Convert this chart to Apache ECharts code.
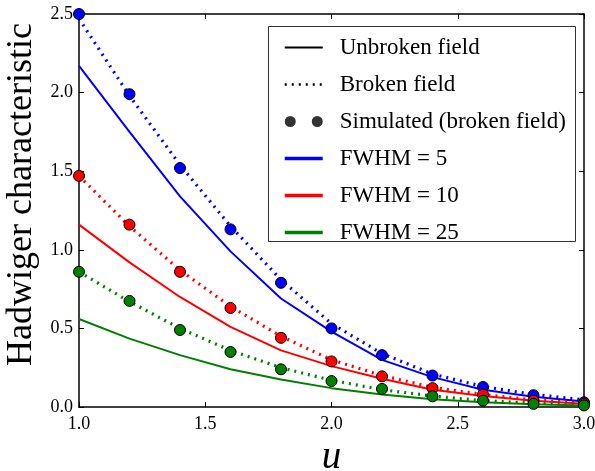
<!DOCTYPE html>
<html>
<head>
<meta charset="utf-8">
<script src="https://cdn.jsdelivr.net/npm/echarts@6/dist/echarts.min.js"></script>
<style>html,body{margin:0;padding:0;background:#fff;}#c{width:595px;height:471px;}</style>
</head>
<body>
<div id="c"></div>
<script>
var uValues = [1.0, 1.2, 1.4, 1.6, 1.8, 2.0, 2.2, 2.4, 2.6, 2.8, 3.0];
var xTicks = [1.0, 1.5, 2.0, 2.5, 3.0];
var yTicks = [0.0, 0.5, 1.0, 1.5, 2.0, 2.5];

var blueUnbroken  = [2.17, 1.75, 1.34, 0.99, 0.69, 0.48, 0.30, 0.19, 0.11, 0.065, 0.035];
var redUnbroken   = [1.16, 0.92, 0.70, 0.51, 0.36, 0.26, 0.18, 0.11, 0.07, 0.04, 0.02];
var greenUnbroken = [0.56, 0.435, 0.33, 0.24, 0.175, 0.12, 0.08, 0.05, 0.03, 0.017, 0.01];

var blueBroken  = [2.47, 1.98, 1.54, 1.15, 0.81, 0.53, 0.34, 0.21, 0.13, 0.08, 0.045];
var redBroken   = [1.47, 1.15, 0.87, 0.64, 0.45, 0.30, 0.20, 0.125, 0.08, 0.045, 0.025];
var greenBroken = [0.86, 0.67, 0.50, 0.36, 0.25, 0.17, 0.11, 0.07, 0.04, 0.025, 0.013];

var blueSim  = [2.5, 1.99, 1.52, 1.13, 0.79, 0.50, 0.33, 0.20, 0.127, 0.075, 0.03];
var redSim   = [1.47, 1.16, 0.86, 0.63, 0.44, 0.29, 0.195, 0.12, 0.079, 0.04, 0.02];
var greenSim = [0.86, 0.675, 0.49, 0.35, 0.24, 0.165, 0.115, 0.068, 0.04, 0.02, 0.01];

var legendNames = ['Unbroken field', 'Broken field', 'Simulated (broken field)', 'FWHM = 5', 'FWHM = 10', 'FWHM = 25'];
var xLabel = 'u';
var yLabel = 'Hadwiger characteristic';

var BLUE = '#0000ff', RED = '#ff0000', GREEN = '#008000';
var FONT = '"Liberation Serif", "DejaVu Serif", serif';
var DOT = [2, 5];

function pairs(ys) { return uValues.map(function (u, i) { return [u, ys[i]]; }); }

function solid(name, ys, color) {
  return { name: name, type: 'line', data: pairs(ys), symbol: 'none', silent: true, z: 2,
    lineStyle: { color: color, width: 2 }, itemStyle: { color: color } };
}
function dotted(name, ys, color) {
  return { name: name, type: 'line', data: pairs(ys), symbol: 'none', silent: true, z: 3,
    lineStyle: { color: color, width: 3.2, type: DOT, cap: 'butt' }, itemStyle: { color: color } };
}
function sim(name, ys, color) {
  return { name: name, type: 'scatter', data: pairs(ys), symbol: 'circle', symbolSize: 11, z: 5, silent: true,
    itemStyle: { color: color, borderColor: '#000', borderWidth: 1, opacity: 1 } };
}

var chart = echarts.init(document.getElementById('c'), null, { renderer: 'canvas' });

var axisCommon = {
  type: 'value',
  axisLine: { show: true, onZero: false, lineStyle: { color: '#000', width: 1.5 } },
  axisTick: { show: true, inside: true, length: 5, lineStyle: { color: '#000', width: 1 } },
  splitLine: { show: false }
};

var HIDE = { color: 'rgba(0,0,0,0)', borderWidth: 0 };

var series = [
  solid('u5', blueUnbroken, BLUE), solid('u10', redUnbroken, RED), solid('u25', greenUnbroken, GREEN),
  dotted('b5', blueBroken, BLUE), dotted('b10', redBroken, RED), dotted('b25', greenBroken, GREEN),
  sim('s5', blueSim, BLUE), sim('s10', redSim, RED), sim('s25', greenSim, GREEN),
  { name: legendNames[0], type: 'line', data: [], symbol: 'none', lineStyle: { color: '#000', width: 2 }, itemStyle: { color: '#000' } },
  { name: legendNames[1], type: 'line', data: [], symbol: 'none', lineStyle: { color: '#000', width: 2.5, type: [2, 5] }, itemStyle: { color: '#000' } },
  { name: legendNames[2], type: 'scatter', data: [], itemStyle: { color: '#000' } },
  { name: legendNames[3], type: 'line', data: [], symbol: 'none', lineStyle: { color: BLUE, width: 3.5 }, itemStyle: { color: BLUE } },
  { name: legendNames[4], type: 'line', data: [], symbol: 'none', lineStyle: { color: RED, width: 3.5 }, itemStyle: { color: RED } },
  { name: legendNames[5], type: 'line', data: [], symbol: 'none', lineStyle: { color: GREEN, width: 3.5 }, itemStyle: { color: GREEN } }
];

chart.setOption({
  animation: false,
  backgroundColor: '#ffffff',
  grid: { left: 79, right: 11, top: 14, bottom: 64, containLabel: false, outerBoundsMode: 'none' },
  xAxis: [
    Object.assign({}, axisCommon, {
      position: 'bottom', min: xTicks[0], max: xTicks[xTicks.length - 1], interval: 0.5,
      axisLabel: { color: '#000', fontFamily: FONT, fontSize: 18, margin: 8, formatter: function (v) { return v.toFixed(1); } },
      name: xLabel, nameLocation: 'middle', nameGap: 31,
      nameTextStyle: { color: '#000', fontFamily: FONT, fontStyle: 'italic', fontSize: 39 }
    }),
    Object.assign({}, axisCommon, {
      position: 'top', min: xTicks[0], max: xTicks[xTicks.length - 1], interval: 0.5, axisLabel: { show: false }
    })
  ],
  yAxis: [
    Object.assign({}, axisCommon, {
      position: 'left', min: yTicks[0], max: yTicks[yTicks.length - 1], interval: 0.5,
      axisLabel: { color: '#000', fontFamily: FONT, fontSize: 18, margin: 6, formatter: function (v) { return v.toFixed(1); } },
      name: yLabel, nameLocation: 'middle', nameGap: 26, nameRotate: 90,
      nameTextStyle: { color: '#000', fontFamily: FONT, fontSize: 36, padding: [0, 0, 0, 32] }
    }),
    Object.assign({}, axisCommon, {
      position: 'right', min: yTicks[0], max: yTicks[yTicks.length - 1], interval: 0.5, axisLabel: { show: false }
    })
  ],
  legend: {
    orient: 'vertical', left: 278, top: 31,
    itemWidth: 38, itemHeight: 11, itemGap: 14,
    selectedMode: false,
    textStyle: { color: '#000', fontFamily: FONT, fontSize: 23, lineHeight: 23, padding: [0, 0, 0, 12] },
    lineStyle: { width: 'inherit', type: 'inherit' },
    data: [
      { name: legendNames[0], itemStyle: HIDE },
      { name: legendNames[1], itemStyle: HIDE },
      { name: legendNames[2], icon: 'path://M0,5.5A5.5,5.5 0 1,0 11,5.5A5.5,5.5 0 1,0 0,5.5Z M27,5.5A5.5,5.5 0 1,0 38,5.5A5.5,5.5 0 1,0 27,5.5Z' },
      { name: legendNames[3], itemStyle: HIDE },
      { name: legendNames[4], itemStyle: HIDE },
      { name: legendNames[5], itemStyle: HIDE }
    ]
  },
  graphic: [{
    type: 'rect', left: 266, top: 24, z: 50, silent: true,
    shape: { width: 307, height: 215 },
    style: { fill: 'none', stroke: '#333', lineWidth: 1 }
  }],
  series: series
});
</script>
</body>
</html>
